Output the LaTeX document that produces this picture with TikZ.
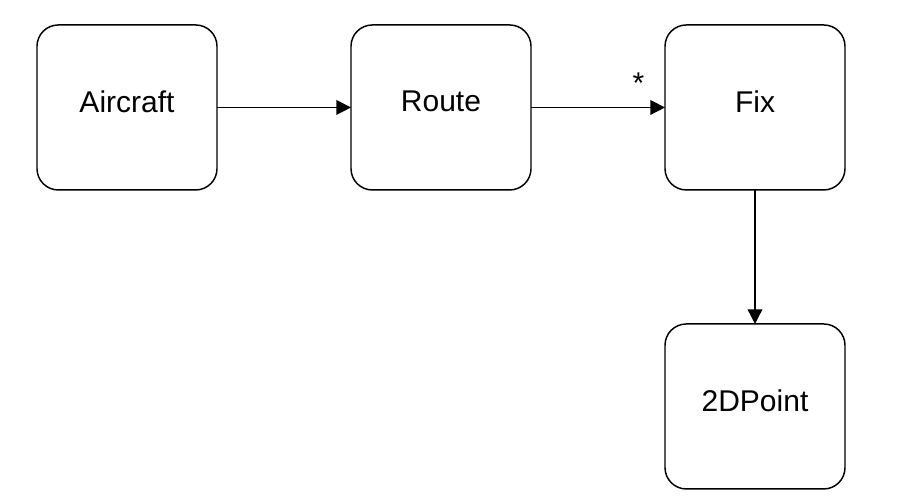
\documentclass[tikz,border=0pt]{standalone}
\usepackage{fontspec}
\setmainfont{Liberation Sans}
\usetikzlibrary{positioning,arrows.meta}

\begin{document}
\begin{tikzpicture}[
		classbox/.style={draw=black, line width=1.1pt, rounded corners=16pt,
			minimum width=135pt, minimum height=123.75pt, text depth=9pt,
			outer sep=0pt, font=\fontsize{22.5}{27}\selectfont},
		assoc/.style={-{Triangle[length=11pt,width=11pt]}, line width=1.1pt},
		node distance=100.5pt
	]
	\useasboundingbox (0,0) rectangle (674.25pt,-376.5pt);
	% classes
	\node[classbox] (aircraft) at (95.25pt,-80.6pt) {Aircraft};
	\node[classbox, right=of aircraft] (route) {Route};
	\node[classbox, right=of route] (fix) {Fix};
	\node[classbox, below=of fix] (point) {2DPoint};
	% multiplicity
	\node[font=\fontsize{22.5}{27}\selectfont, inner sep=0pt] (mult) at ([xshift=-20pt,yshift=18pt]fix.west) {*};
	% associations
	\draw[assoc] (aircraft) -- (route);
	\draw[assoc] (route) -- (fix);
	\draw[assoc] (fix) -- (point);
\end{tikzpicture}
\end{document}
